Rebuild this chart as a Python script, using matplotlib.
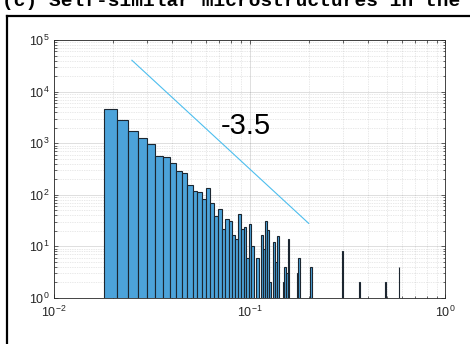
import numpy as np
import matplotlib
matplotlib.use("Agg")
import matplotlib.pyplot as plt
from matplotlib.lines import Line2D
from matplotlib.ticker import LogLocator, NullFormatter

plt.rcParams['font.family'] = ['Liberation Sans', 'DejaVu Sans']
plt.rcParams['mathtext.default'] = 'regular'

# histogram: linear bins of width 0.003 starting at 0.018
bin_start = 0.018
bin_width = 0.003
counts = [4540, 2818, 1700, 1260, 965, 575, 550, 408, 283, 268,
          155, 117, 113, 84, 135, 68, 38, 54, 22, 34,
          31, 17, 14, 42, 22, 24, 6, 27, 10, 0,
          6, 0, 17, 9, 31, 21, 2, 0, 12, 5,
          16, 0, 0, 2, 4, 3, 14, 0, 0, 0,
          0, 0, 3, 6, 0, 0, 0, 0, 0, 0,
          0, 0, 4]
# isolated far bins
tail_left = [0.297, 0.363, 0.492, 0.576]
tail_counts = [8, 2, 2, 4]

# reference slope line  y = c * x^-3.5
slope = -3.5
slope_coef = 0.1
slope_x = [0.025, 0.2]
slope_label = "-3.5"

title = "(c) Self-similar microstructures in the"

fig = plt.figure(figsize=(4.7, 3.44), dpi=100)
ax = fig.add_axes([54 / 470, 1 - 298 / 344, 391.5 / 470, 258 / 344])

left = list(bin_start + bin_width * np.arange(len(counts))) + tail_left
heights = counts + tail_counts
left = [l for l, h in zip(left, heights) if h > 0]
heights = [h for h in heights if h > 0]

ax.bar(left, heights, width=bin_width, align='edge', bottom=0,
       color='#4CA3DA', edgecolor='#1c2630', linewidth=0.8, zorder=2)

sx = np.array(slope_x)
ax.plot(sx, slope_coef * sx ** slope, color='#4DBEEE', lw=0.8, zorder=3)
ax.text(0.096, 2150, slope_label, fontsize=21, ha='center', va='center',
        color='black', zorder=4)

ax.set_xscale('log')
ax.set_yscale('log')
ax.set_xlim(1e-2, 1)
ax.set_ylim(1, 1e5)

ax.xaxis.set_major_locator(LogLocator(base=10, numticks=10))
ax.yaxis.set_major_locator(LogLocator(base=10, numticks=10))
ax.xaxis.set_minor_locator(LogLocator(base=10, subs=np.arange(2, 10), numticks=20))
ax.yaxis.set_minor_locator(LogLocator(base=10, subs=np.arange(2, 10), numticks=20))
ax.xaxis.set_minor_formatter(NullFormatter())
ax.yaxis.set_minor_formatter(NullFormatter())

ax.grid(True, which='major', color='#262626', alpha=0.15, lw=0.7, zorder=0)
ax.grid(True, which='minor', color='#262626', alpha=0.2, lw=0.5,
        linestyle=(0, (1, 1.5)), zorder=0)
ax.set_axisbelow(True)

ax.tick_params(which='both', direction='in', top=True, right=True,
               colors='#262626', labelsize=9)
ax.tick_params(which='major', length=3, width=0.5)
ax.tick_params(which='minor', length=1.8, width=0.5)
ax.tick_params(axis='x', pad=5)
for s in ax.spines.values():
    s.set_color('#262626')
    s.set_linewidth(0.6)

# panel frame and clipped panel title
fig.add_artist(Line2D([7.5 / 470, 7.5 / 470], [0, 1 - 16 / 344], color='black',
                      lw=1.6, transform=fig.transFigure))
fig.add_artist(Line2D([7 / 470, 1], [1 - 16 / 344, 1 - 16 / 344], color='black',
                      lw=1.6, transform=fig.transFigure))
fig.text(2 / 470, 1 - 5.5 / 344, title, fontsize=14, fontweight='bold',
         family='Liberation Mono', va='baseline', ha='left')

fig.savefig("out.png", dpi=100)
